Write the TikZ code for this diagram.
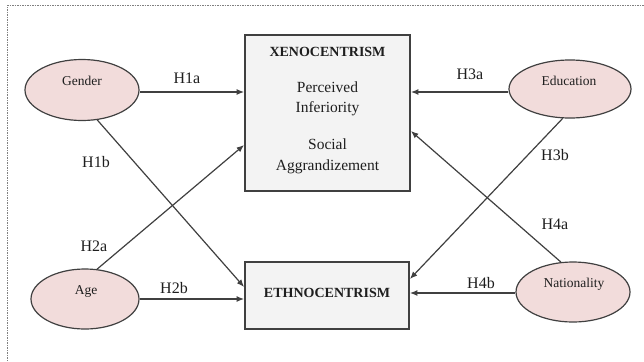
\documentclass[tikz,border=0pt]{standalone}
\usepackage{fontspec}
\setmainfont{Liberation Serif}
\usetikzlibrary{arrows.meta,shapes.geometric}
\definecolor{ellfill}{HTML}{F2DCDB}
\definecolor{boxfill}{HTML}{F3F3F3}
\definecolor{linecol}{HTML}{404040}
\definecolor{txt}{HTML}{1E1E1E}
\begin{document}
\begin{tikzpicture}[x=1pt,y=-1pt,
  arr/.style={-{Latex[length=7.5pt,width=6pt]}, line width=1.2pt, draw=linecol},
  ell/.style={ellipse, draw=linecol, line width=1.2pt, fill=ellfill, inner sep=0pt},
  bigbox/.style={rectangle, draw=linecol, line width=1.8pt, fill=boxfill, inner sep=0pt},
  hlab/.style={font=\fontsize{16}{18}\selectfont, text=txt, inner sep=0pt},
  elab/.style={font=\fontsize{13.5}{15}\selectfont, text=txt, inner sep=0pt},
  btext/.style={font=\fontsize{15.5}{20.5}\selectfont, text=txt, inner sep=0pt, align=center},
]
\useasboundingbox (0,0) rectangle (644,361);
\fill[white] (0,0) rectangle (644,361);
\draw[gray, line width=0.8pt, dash pattern=on 1.5pt off 1pt] (7.5,361) -- (7.5,5.5) -- (644,5.5);

% boxes
\node[bigbox, minimum width=165, minimum height=156] (xeno) at (327.5,113) {};
\node[bigbox, minimum width=164, minimum height=67] (ethno) at (327,295.5) {};
\node[btext] (xenotext) at (327.5,110.4) {{\fontsize{14}{20.5}\selectfont\bfseries XENOCENTRISM}\\[15pt]Perceived\\Inferiority\\[16.5pt]Social\\Aggrandizement};
\node[btext, font=\fontsize{14}{20.5}\selectfont\bfseries] (ethnotext) at (327,292.7) {ETHNOCENTRISM};

% ellipses
\node[ell, minimum width=114, minimum height=61] (gender) at (82,90) {};
\node[ell, minimum width=108, minimum height=60] (age) at (85,299) {};
\node[ell, minimum width=122, minimum height=58] (edu) at (570,89) {};
\node[ell, minimum width=114, minimum height=60] (nat) at (573,292) {};
\node[elab] (gendertext) at (82,81) {Gender};
\node[elab] (agetext) at (86,291.5) {Age};
\node[elab] (edutext) at (569,81) {Education};
\node[elab] (nattext) at (574,284.5) {Nationality};

% connectors
\draw[arr] ([yshift=-2]gender.east) -- ([yshift=-2]gender.east -| xeno.west);
\draw[arr] (gender.-63) -- ([yshift=8.5]ethno.west);
\draw[arr] (age.68) -- ([yshift=-32]xeno.west);
\draw[arr] (age.east) -- (age.east -| ethno.west);
\draw[arr] ([yshift=-3]edu.west) -- ([yshift=-3]edu.west -| xeno.east);
\draw[arr] (edu.-104) -- ([yshift=16.5]ethno.east);
\draw[arr] (nat.112) -- ([yshift=-18]xeno.east);
\draw[arr] ([yshift=-1]nat.west) -- ([yshift=-1]nat.west -| ethno.east);

% labels
\node[hlab] (h1a) at (187,78) {H1a};
\node[hlab] (h1b) at (96,162) {H1b};
\node[hlab] (h2a) at (94,246) {H2a};
\node[hlab] (h2b) at (174,288) {H2b};
\node[hlab] (h3a) at (470,74) {H3a};
\node[hlab] (h3b) at (555,155) {H3b};
\node[hlab] (h4a) at (555,224) {H4a};
\node[hlab] (h4b) at (481,283) {H4b};
\end{tikzpicture}
\end{document}
